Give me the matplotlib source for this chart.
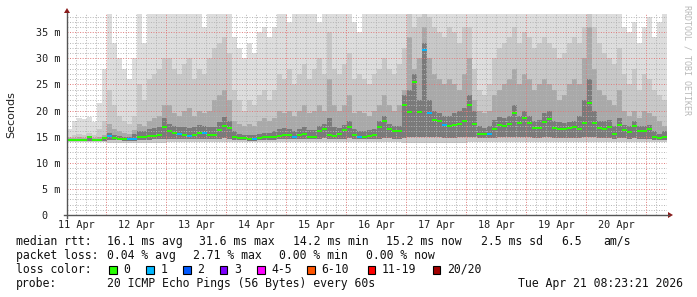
import matplotlib
matplotlib.use("Agg")
import matplotlib.pyplot as plt
from matplotlib.lines import Line2D
from matplotlib.patches import Polygon, Rectangle
import numpy as np

matplotlib.rcParams['font.family'] = 'DejaVu Sans Mono'

# median rtt in ms, one value per 2 hours (Apr 11 08:23 -> Apr 21 08:23)
median = [14.4, 14.4, 14.4, 14.4, 14.9, 14.4, 14.4, 14.7, 15.1, 14.8,
          14.6, 14.5, 14.5, 14.5, 15.0, 15.0, 15.1, 15.2, 15.3, 16.9,
          16.1, 15.7, 15.5, 15.4, 15.2, 15.3, 15.8, 15.7, 15.3, 15.3,
          16.2, 17.1, 16.6, 15.0, 14.8, 14.7, 14.6, 14.6, 14.8, 14.9,
          14.9, 14.9, 15.1, 15.4, 15.3, 15.0, 15.4, 15.6, 15.0, 15.0,
          16.0, 16.4, 15.3, 15.2, 15.5, 16.2, 16.9, 15.3, 14.9, 15.0,
          15.1, 15.3, 16.8, 18.0, 16.4, 16.0, 16.0, 21.0, 19.8, 25.5,
          19.8, 31.6, 19.5, 18.2, 18.0, 17.3, 17.0, 17.3, 17.5, 18.0,
          21.0, 17.5, 15.6, 15.5, 15.6, 16.5, 17.2, 17.0, 17.4, 19.5,
          17.6, 18.6, 17.6, 16.6, 16.7, 17.8, 18.3, 16.6, 16.5, 16.4,
          16.6, 16.8, 16.4, 17.6, 21.5, 17.6, 16.6, 16.4, 16.8, 15.5,
          17.2, 16.2, 15.9, 17.0, 16.0, 16.1, 16.4, 15.0, 14.8, 15.0]

# lost pings (out of 20) per step
loss = [0, 0, 0, 0, 0, 0, 0, 0, 1, 0,
        0, 0, 1, 1, 0, 0, 0, 0, 0, 0,
        0, 0, 1, 0, 1, 0, 0, 1, 0, 0,
        0, 0, 0, 0, 0, 0, 0, 1, 0, 0,
        0, 0, 0, 0, 0, 1, 0, 0, 0, 0,
        0, 0, 0, 0, 0, 0, 0, 0, 1, 0,
        0, 0, 0, 0, 0, 0, 0, 0, 0, 0,
        0, 1, 1, 0, 0, 1, 0, 0, 0, 0,
        0, 0, 0, 0, 1, 0, 0, 0, 0, 0,
        0, 0, 0, 0, 0, 0, 0, 0, 0, 0,
        0, 0, 0, 0, 0, 0, 0, 0, 0, 0,
        0, 0, 0, 0, 0, 0, 0, 0, 0, 0]

# smoke: slowest ping (values above 38.5 run off the top)
ping_max = [16.5, 18.0, 18.5, 18.3, 18.8, 17.8, 21.5, 28.0, 40, 33.0,
            30.0, 28.0, 26.0, 30.0, 40, 33.0, 40, 40, 40, 40,
            40, 40, 40, 40, 40, 40, 40, 36.0, 40, 40,
            40, 40, 40, 34.0, 32.0, 30.0, 33.0, 31.0, 35.0, 36.0,
            34.0, 36.0, 40, 40, 37.0, 40, 40, 40, 40, 40,
            37.0, 40, 40, 40, 40, 40, 40, 37.0, 35.0, 40,
            40, 40, 40, 40, 40, 40, 40, 40, 40, 40,
            40, 40, 40, 40, 40, 40, 40, 40, 40, 40,
            40, 40, 40, 40, 40, 40, 40, 40, 40, 40,
            40, 40, 40, 40, 40, 40, 40, 40, 40, 40,
            40, 40, 40, 40, 40, 40, 40, 40, 40, 40,
            40, 36.0, 35.0, 37.0, 33.0, 36.0, 38.0, 34.0, 37.0, 40]

ping_18 = [15.0, 15.3, 15.6, 15.4, 15.8, 15.3, 16.5, 18.0, 24, 21,
           19, 18, 17.5, 19, 25, 22, 26, 27, 28, 30,
           30, 28, 27, 29, 30, 26, 28, 27, 30, 32,
           33, 34, 31, 24, 22, 20, 22, 21, 23, 24,
           22, 24, 27, 26, 28, 25, 27, 29, 26, 28,
           30, 27, 35, 28, 27, 29, 31, 26, 27, 26,
           25, 27, 28, 30, 28, 27, 29, 32, 40, 36,
           38, 40, 38, 36, 35, 34, 36, 35, 33, 36,
           36, 28, 24, 23, 25, 30, 32, 33, 34, 36,
           33, 35, 34, 32, 33, 34, 33, 32, 30, 31,
           33, 34, 33, 36, 40, 36, 33, 31, 30, 29,
           32, 27, 25, 28, 24, 27, 26, 24, 23, 22]

ping_15 = [14.7, 14.8, 14.9, 14.8, 15.2, 14.8, 15.0, 15.4, 17.5, 16.5,
           16.0, 15.8, 15.6, 16.2, 17.5, 17.0, 18.0, 18.5, 19.0, 21.0,
           21, 19.5, 19, 20, 20.5, 19, 20, 19.5, 20, 22,
           23, 24, 22, 18, 17.5, 17, 17.5, 17, 18, 18.5,
           18, 18.5, 20, 19.5, 20, 19, 20, 21, 19.5, 20,
           21, 20, 26, 21, 20, 21, 23, 19.5, 20, 19.5,
           19, 20, 21, 23, 21, 20, 21, 24, 34, 28,
           30, 36, 30, 27, 26, 25, 26, 25, 24, 27,
           30, 22, 20, 19.5, 20, 23, 24, 25, 26, 28,
           25, 27, 26, 24, 25, 26, 25, 24, 22, 23,
           25, 26, 25, 30, 36, 28, 24, 23, 22, 21,
           24, 20, 19, 20, 18.5, 20, 19.5, 19, 18, 17]

ping_12 = [14.5, 14.5, 14.5, 14.5, 15.0, 14.5, 14.6, 14.9, 15.8, 15.4,
           15.2, 15.0, 15.0, 15.6, 16.0, 16.0, 16.4, 16.6, 16.8, 18.5,
           17.5, 17.0, 16.8, 16.8, 16.6, 16.8, 17.2, 17.0, 16.8, 16.8,
           17.8, 18.8, 18.0, 16.0, 15.6, 15.4, 15.3, 15.4, 15.6, 15.8,
           15.8, 16.0, 16.4, 16.6, 16.4, 16.0, 16.5, 16.8, 16.2, 16.2,
           17.0, 17.4, 18.5, 16.8, 16.6, 17.2, 18.0, 16.4, 16.0, 16.0,
           16.2, 16.4, 18.0, 19.0, 17.4, 17.0, 17.0, 23.0, 24, 27,
           22, 33, 22, 20, 19.5, 19, 19, 19.5, 20, 20.5,
           23, 20, 17, 16.6, 17, 18.2, 18.8, 18.6, 19, 21,
           19, 20, 19, 18, 18.2, 19.5, 20, 18, 17.8, 17.6,
           17.8, 18, 19, 22, 26, 20, 18, 18, 18.2, 17,
           18.6, 17.2, 17.0, 18.0, 17.0, 17.0, 17.2, 16.0, 15.6, 16.0]

ping_low = [14.1, 14.1, 14.1, 14.1, 14.2, 14.1, 14.1, 14.2, 14.3, 14.3,
            14.3, 14.2, 14.2, 14.2, 14.4, 14.4, 14.4, 14.5, 14.5, 14.6,
            14.6, 14.6, 14.5, 14.5, 14.5, 14.5, 14.6, 14.6, 14.5, 14.5,
            14.6, 14.7, 14.6, 14.4, 14.3, 14.3, 14.2, 14.2, 14.3, 14.4,
            14.4, 14.4, 14.5, 14.6, 14.6, 14.5, 14.6, 14.6, 14.5, 14.5,
            14.6, 14.7, 14.6, 14.6, 14.6, 14.6, 14.7, 14.6, 14.5, 14.5,
            14.5, 14.6, 14.6, 14.7, 14.7, 14.6, 14.6, 14.8, 15.0, 15.0,
            14.9, 15.0, 14.9, 14.9, 14.9, 14.8, 14.8, 14.8, 14.9, 14.9,
            15.0, 14.9, 14.7, 14.7, 14.7, 14.8, 14.9, 14.9, 14.9, 15.0,
            14.9, 15.0, 14.9, 14.8, 14.8, 14.9, 14.9, 14.8, 14.8, 14.7,
            14.8, 14.8, 14.8, 14.9, 15.0, 14.9, 14.8, 14.7, 14.8, 14.6,
            14.8, 14.7, 14.6, 14.7, 14.6, 14.6, 14.6, 14.4, 14.3, 14.4]

ping_min = [13.9, 13.9, 13.9, 13.9, 13.9, 13.9, 13.9, 13.9, 13.8, 13.8,
            13.8, 13.8, 13.8, 13.8, 13.8, 13.8, 13.8, 13.8, 13.8, 13.8,
            13.9, 13.9, 13.9, 13.9, 13.9, 13.9, 13.9, 13.9, 13.9, 13.9,
            13.9, 13.9, 13.9, 13.9, 13.9, 13.9, 13.9, 13.9, 13.9, 13.9,
            13.9, 13.9, 13.9, 13.9, 13.9, 13.9, 13.9, 13.9, 13.9, 13.9,
            13.9, 13.9, 13.9, 13.9, 13.9, 13.9, 13.9, 13.9, 13.9, 13.9,
            13.9, 13.9, 13.9, 13.9, 13.9, 13.9, 13.9, 13.8, 13.7, 13.7,
            13.7, 13.7, 13.7, 13.7, 13.8, 13.8, 13.8, 13.8, 13.8, 13.8,
            13.9, 13.9, 13.9, 13.9, 13.9, 13.9, 13.9, 13.9, 13.9, 13.9,
            13.9, 13.9, 13.9, 13.9, 13.9, 13.9, 13.9, 13.9, 13.9, 13.9,
            13.9, 13.9, 13.9, 13.9, 13.9, 13.9, 13.9, 13.9, 13.9, 13.9,
            13.9, 13.9, 13.9, 13.9, 13.9, 13.9, 13.9, 13.9, 13.9, 13.9]

day_labels = ["11 Apr", "12 Apr", "13 Apr", "14 Apr", "15 Apr",
              "16 Apr", "17 Apr", "18 Apr", "19 Apr", "20 Apr"]
y_ticks = [0, 5, 10, 15, 20, 25, 30, 35]
y_labels = ["0  ", "5 m", "10 m", "15 m", "20 m", "25 m", "30 m", "35 m"]

loss_names = ["0", "1", "2", "3", "4-5", "6-10", "11-19", "20/20"]
loss_colors = ["#26ff00", "#00b8ff", "#0059ff", "#7e00ff",
               "#ff00ff", "#ff5500", "#ff0000", "#a10000"]

W, H = 697, 297


def px(x, y):
    return x / W, 1 - y / H


fig = plt.figure(figsize=(W / 100, H / 100), dpi=100)
fig.patch.set_facecolor("white")
ax = fig.add_axes([67 / W, (H - 215) / H, 600 / W, 201 / H])

# time axis in days since Apr 11 00:00
t_start = (8 + 23 / 60 + 21 / 3600) / 24
step = 2 / 24
edges = t_start + step * np.arange(len(median) + 1)

ax.stairs(ping_max, edges, baseline=ping_min, fill=True, color="#dddddd", lw=0, zorder=1)
ax.stairs(ping_18, edges, baseline=ping_min, fill=True, color="#c8c8c8", lw=0, zorder=1.1)
ax.stairs(ping_15, edges, baseline=ping_low, fill=True, color="#a9a9a9", lw=0, zorder=1.2)
ax.stairs(ping_12, edges, baseline=ping_low, fill=True, color="#7a7a7a", lw=0, zorder=1.3)

ax.set_xlim(t_start, t_start + 10)
ax.set_ylim(0, 38.5)

# grid, drawn over the smoke like rrdtool does
dot = (0, (1, 1.6))
for k in range(1, 62):
    t = k / 6
    if t <= t_start or t >= t_start + 10:
        continue
    if k % 6 == 0:
        ax.axvline(t, color="#e07a7a", lw=0.7, ls=dot, zorder=2.5)
    else:
        ax.axvline(t, color="#b4b4b4", lw=0.7, ls=dot, zorder=2.4)
for v in range(1, 39):
    if v % 5 == 0:
        ax.axhline(v, color="#e07a7a", lw=0.7, ls=dot, zorder=2.5)
    else:
        ax.axhline(v, color="#b4b4b4", lw=0.7, ls=dot, zorder=2.4)

# median line coloured by loss
ax.hlines(median, edges[:-1], edges[1:], colors=[loss_colors[l] for l in loss],
          lw=1.4, zorder=4)

for s in ax.spines.values():
    s.set_visible(False)
ax.set_facecolor("white")
ax.set_xticks(np.arange(10) + 0.5, day_labels)
ax.set_yticks(y_ticks, y_labels)
ax.tick_params(axis="x", length=0, pad=3.5, labelsize=7.3, colors="#202020")
ax.tick_params(axis="y", length=0, pad=5, labelsize=7.3, colors="#202020")

# axes with arrows
axis_col = "#555555"
arrow_col = "#8b1a1a"
fig.add_artist(Line2D([67 / W, 67 / W], [1 - 218 / H, 1 - 13 / H],
                      transform=fig.transFigure, color=axis_col, lw=1))
fig.add_artist(Line2D([64 / W, 669 / W], [1 - 215 / H, 1 - 215 / H],
                      transform=fig.transFigure, color=axis_col, lw=1))
fig.add_artist(Polygon([px(64, 13), px(70, 13), px(67, 8)], closed=True,
                       transform=fig.transFigure, color=arrow_col, lw=0))
fig.add_artist(Polygon([px(668, 212), px(668, 218), px(673, 215)], closed=True,
                       transform=fig.transFigure, color=arrow_col, lw=0))

fig.text(*px(11, 114.5), "Seconds", rotation=90, ha="center", va="center",
         family="DejaVu Sans", fontsize=8, color="#202020")
fig.text(*px(687, 5), "RRDTOOL / TOBI OETIKER", rotation=270, ha="center", va="top",
         fontsize=6, color="#b8b8b8")

fs = 8.3
txt = dict(fontsize=fs, va="center", color="#111111")
row1 = [(16, "median rtt:"), (107, "16.1 ms avg"), (199, "31.6 ms max"),
        (293, "14.2 ms min"), (386, "15.2 ms now"), (481, "2.5 ms sd"),
        (561, "6.5"), (603, "am/s")]
for x, s in row1:
    fig.text(*px(x, 241.5), s, **txt)
row2 = [(16, "packet loss:"), (107, "0.04 % avg"), (193, "2.71 % max"),
        (279, "0.00 % min"), (366, "0.00 % now")]
for x, s in row2:
    fig.text(*px(x, 255.5), s, **txt)
fig.text(*px(16, 269.5), "loss color:", **txt)
box_x = [109, 146, 183, 219.5, 257, 307, 367.5, 432.5]
for bx, name, col in zip(box_x, loss_names, loss_colors):
    fig.add_artist(Rectangle(px(bx, 273.5), 7.5 / W, 8 / H, transform=fig.transFigure,
                             facecolor=col, edgecolor="black", lw=0.8))
    fig.text(*px(bx + 14.5, 269.5), name, **txt)
fig.text(*px(16, 283.5), "probe:", **txt)
fig.text(*px(107, 283.5), "20 ICMP Echo Pings (56 Bytes) every 60s", **txt)
fig.text(*px(683, 283.5), "Tue Apr 21 08:23:21 2026", ha="right", fontsize=fs,
         va="center", color="#111111")

fig.savefig("out.png", dpi=100, facecolor="white")
